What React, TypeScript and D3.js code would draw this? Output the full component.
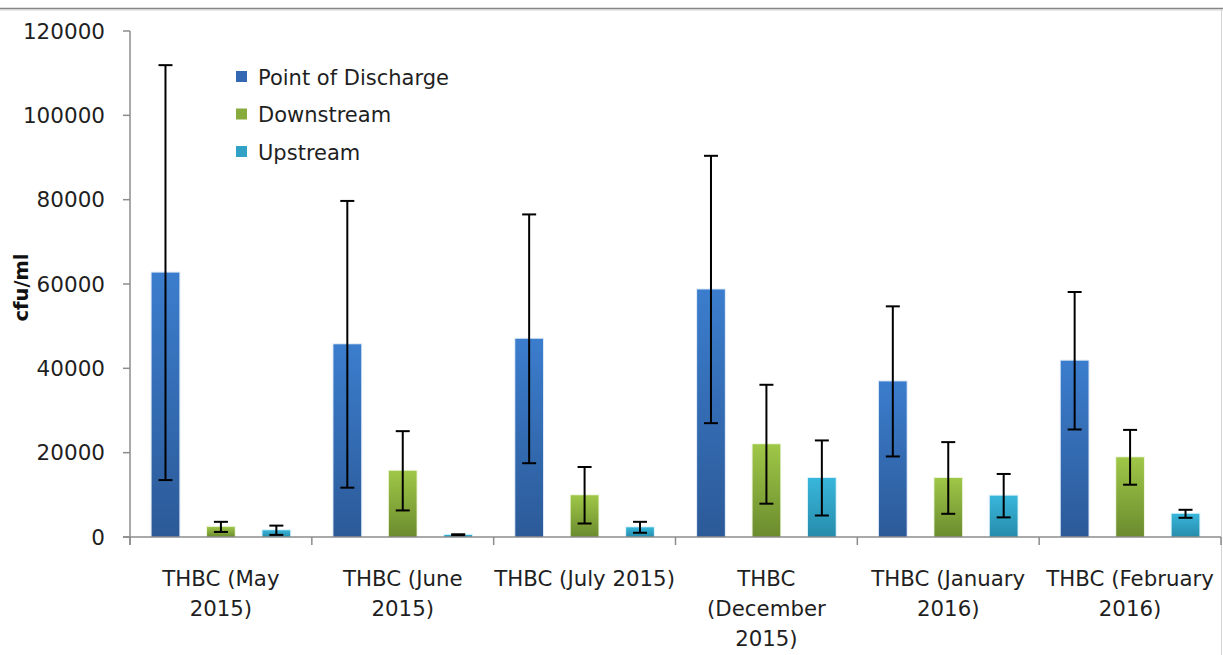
import React from "react";
import * as d3 from "d3";

const categories = ["May 2015", "June 2015", "July 2015", "December 2015", "January 2016", "February 2016"];
const categoryLines = [
  ["THBC (May", "2015)"],
  ["THBC (June", "2015)"],
  ["THBC (July 2015)"],
  ["THBC", "(December", "2015)"],
  ["THBC (January", "2016)"],
  ["THBC (February", "2016)"],
];
const seriesNames = ["Point of Discharge", "Downstream", "Upstream"];
const pointOfDischarge = [62700, 45700, 47000, 58700, 36900, 41800];
const pointOfDischargeErr = [49200, 34000, 29500, 31700, 17800, 16300];
const downstream = [2400, 15700, 9900, 22000, 14000, 18900];
const downstreamErr = [1200, 9400, 6700, 14100, 8500, 6500];
const upstream = [1600, 500, 2300, 14000, 9800, 5500];
const upstreamErr = [1100, 150, 1300, 8900, 5150, 950];
const yTicks = [0, 20000, 40000, 60000, 80000, 100000, 120000];

const seriesValues = [pointOfDischarge, downstream, upstream];
const seriesErrors = [pointOfDischargeErr, downstreamErr, upstreamErr];
const gradients = [
  { id: "gBlue", top: "#3b7dcd", bottom: "#2c5a98", legend: "#3468b3" },
  { id: "gGreen", top: "#9fc747", bottom: "#6b8b2e", legend: "#87ab3c" },
  { id: "gCyan", top: "#38b6db", bottom: "#278cab", legend: "#31a2c6" },
];

const FONT = "'DejaVu Sans', sans-serif";
const TEXT = "#1f1f1f";

export default function App() {
  const W = 1223, H = 655;
  const left = 130, right = 1221, top = 31, bottom = 537;
  const y = d3.scaleLinear().domain([0, 120000]).range([bottom, top]);
  const x0 = d3.scaleBand().domain(categories).range([left, right]).paddingInner(0).paddingOuter(0);
  const x1 = d3.scaleBand().domain(seriesNames).range([0, x0.bandwidth()]).paddingInner(0.5).paddingOuter(0.39);
  const capHalf = 7;

  return (
    <svg width={W} height={H} style={{ position: "absolute", left: 0, top: 0, background: "#fff" }}>
      <defs>
        {gradients.map((g) => (
          <linearGradient key={g.id} id={g.id} x1="0" y1="0" x2="0" y2="1">
            <stop offset="0%" stopColor={g.top} />
            <stop offset="100%" stopColor={g.bottom} />
          </linearGradient>
        ))}
      </defs>
      <rect x={0} y={0} width={W} height={H} fill="#fff" />
      {/* frame */}
      <line x1={0} x2={W} y1={8.5} y2={8.5} stroke="#858585" strokeWidth={1.5} />
      <line x1={0} x2={W} y1={10} y2={10} stroke="#d0d0d0" strokeWidth={1} />
      <line x1={1221.5} x2={1221.5} y1={9} y2={H} stroke="#d4d4d4" strokeWidth={1} />

      {/* y axis */}
      <line x1={left} x2={left} y1={top} y2={bottom + 8} stroke="#8c8c8c" strokeWidth={1.5} />
      {yTicks.map((t) => (
        <g key={t}>
          <line x1={left - 7} x2={left} y1={y(t)} y2={y(t)} stroke="#8c8c8c" strokeWidth={1.5} />
          <text x={105} y={y(t)} dy="0.36em" textAnchor="end" fontFamily={FONT} fontSize={21.5} fill={TEXT}>
            {t}
          </text>
        </g>
      ))}
      <text
        transform={`translate(28,${287.5}) rotate(-90)`}
        textAnchor="middle"
        fontFamily={FONT}
        fontWeight="bold"
        fontSize={19.5}
        fill="#111"
      >
        cfu/ml
      </text>

      {/* bars */}
      {categories.map((c, ci) => (
        <g key={c}>
          {seriesNames.map((s, si) => {
            const v = seriesValues[si][ci];
            const e = seriesErrors[si][ci];
            const bx = (x0(c) as number) + (x1(s) as number);
            const bw = x1.bandwidth();
            const cx = bx + bw / 2;
            return (
              <g key={s}>
                <rect x={bx - 1} y={y(v) - 1} width={bw + 2} height={bottom - y(v) + 1} fill={gradients[si].top} opacity={0.18} />
                <rect x={bx} y={y(v)} width={bw} height={bottom - y(v)} fill={`url(#${gradients[si].id})`} />
                <line x1={cx} x2={cx} y1={y(v + e)} y2={y(Math.max(0, v - e))} stroke="#000" strokeWidth={2} />
                <line x1={cx - capHalf} x2={cx + capHalf} y1={y(v + e)} y2={y(v + e)} stroke="#000" strokeWidth={2} />
                <line x1={cx - capHalf} x2={cx + capHalf} y1={y(Math.max(0, v - e))} y2={y(Math.max(0, v - e))} stroke="#000" strokeWidth={2} />
              </g>
            );
          })}
        </g>
      ))}

      {/* x axis */}
      <line x1={left - 7} x2={right} y1={bottom} y2={bottom} stroke="#8c8c8c" strokeWidth={1.5} />
      {[...categories.map((c) => x0(c) as number), right].map((px, i) => (
        <line key={i} x1={px} x2={px} y1={bottom} y2={bottom + 8} stroke="#8c8c8c" strokeWidth={1.5} />
      ))}
      {categories.map((c, ci) => {
        const cx = (x0(c) as number) + x0.bandwidth() / 2;
        return (
          <text key={c} textAnchor="middle" fontFamily={FONT} fontSize={21.3} fill={TEXT}>
            {categoryLines[ci].map((ln, li) => (
              <tspan key={li} x={cx} y={585.5 + li * 30}>
                {ln}
              </tspan>
            ))}
          </text>
        );
      })}

      {/* legend */}
      {seriesNames.map((s, si) => {
        const cy = 77 + si * 37.5;
        return (
          <g key={s}>
            <rect x={236} y={cy - 6} width={11} height={11} fill={gradients[si].legend} />
            <text x={258} y={cy} dy="0.36em" fontFamily={FONT} fontSize={21} fill={TEXT}>
              {s}
            </text>
          </g>
        );
      })}
    </svg>
  );
}
